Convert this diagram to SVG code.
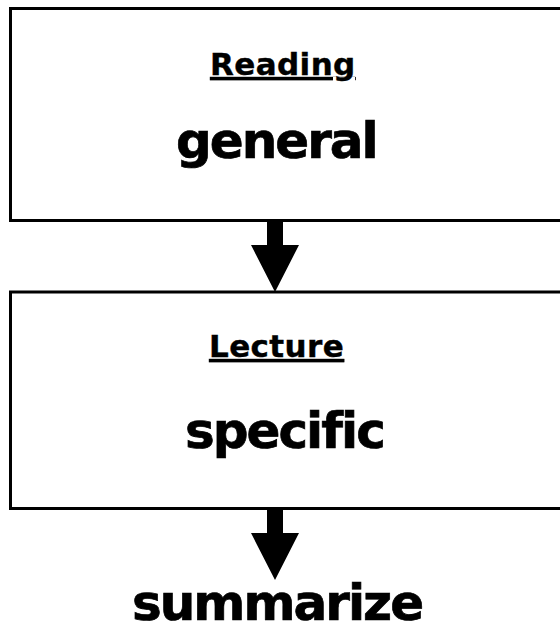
<svg xmlns="http://www.w3.org/2000/svg" width="560" height="631" viewBox="0 0 560 631">
  <style>
    .box { fill: #ffffff; stroke: #000000; stroke-width: 3; }
    .title { font-family: "DejaVu Sans", Verdana, sans-serif; font-weight: bold; font-size: 31px; fill: #000; stroke: #000; stroke-width: 0.4; text-decoration: underline; letter-spacing: 0.4px; }
    .big { font-family: "DejaVu Sans", Verdana, sans-serif; font-weight: bold; font-size: 50px; fill: #000; stroke: #000; stroke-width: 0.7; letter-spacing: -2px; font-variant-ligatures: none; }
    .arrow { fill: #000000; stroke: none; }
  </style>
  <rect x="0" y="0" width="560" height="631" fill="#ffffff"/>
  <g id="reading">
    <rect class="box" x="10.5" y="8.5" width="560" height="212"/>
    <text class="title" x="210" y="75">Reading</text>
    <text class="big" x="176" y="158">general</text>
  </g>
  <g id="lecture">
    <rect class="box" x="10.5" y="292" width="560" height="216.5"/>
    <text class="title" x="209" y="357">Lecture</text>
    <text class="big" x="185" y="448">specific</text>
  </g>
  <g id="summarize">
    <text class="big" x="132" y="620">summarize</text>
  </g>
  <g id="connectors">
    <polygon class="arrow" points="267,222 283,222 283,245 299,245 275,292 251,245 267,245"/>
    <polygon class="arrow" points="267,510 283,510 283,533 299,533 275,580 251,533 267,533"/>
  </g>
</svg>
